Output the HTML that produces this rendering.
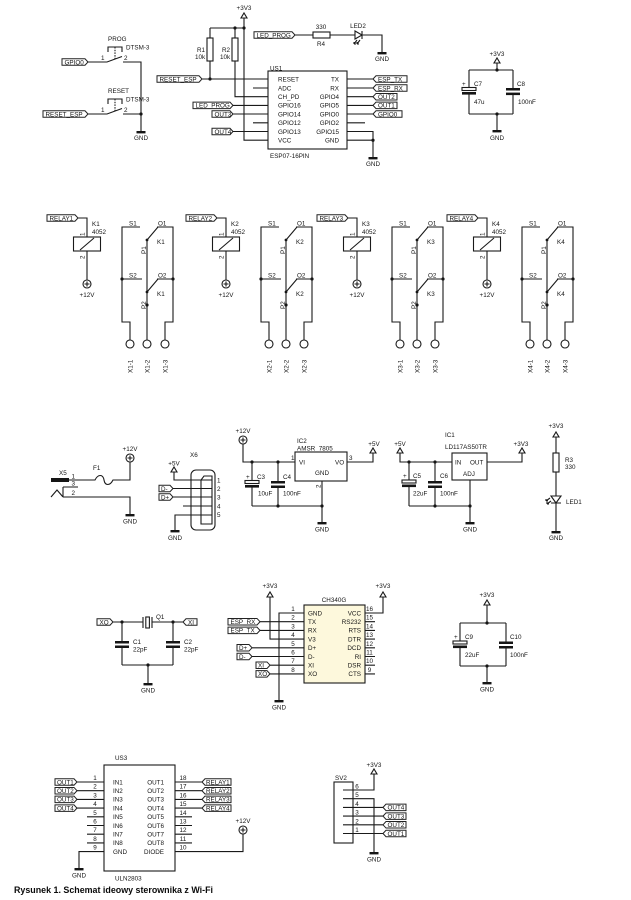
<!DOCTYPE html>
<html><head><meta charset="utf-8">
<style>
html,body{margin:0;padding:0;background:#fff}
svg{display:block}
.w{stroke:#1a1a1a;stroke-width:1.1;fill:none}
.wf{stroke:#1a1a1a;stroke-width:1.1;fill:#fff}
text{font-family:"Liberation Sans",sans-serif;font-size:6.3px;fill:#151515}
.lb{fill:#fff;stroke:#222;stroke-width:1}
.d{fill:#151515;stroke:none}
.m{text-anchor:middle}
.e{text-anchor:end}
.cap{font-size:9.6px;font-weight:bold;fill:#0a0a0a}
</style></head><body>
<svg width="631" height="900" viewBox="0 0 631 900" xmlns="http://www.w3.org/2000/svg">

<!-- ============ SWITCHES ============ -->
<text x="108" y="41">PROG</text>
<text x="126" y="49.5">DTSM-3</text>
<path class="w" d="M108,52V47H122V52"/>
<path class="w" d="M115,47V59" stroke-dasharray="1.5,1.2"/>
<polygon class="lb" points="62,58.75 85,58.75 88,62 85,65.25 62,65.25"/>
<text x="64.5" y="64.3">GPIO0</text>
<path class="w" d="M88,62H107L122,56.5M123,62H141V131"/>
<text x="101" y="60">1</text><text x="124" y="60">2</text>

<text x="108" y="93">RESET</text>
<text x="126" y="101.5">DTSM-3</text>
<path class="w" d="M108,104V99H122V104"/>
<path class="w" d="M115,99V111" stroke-dasharray="1.5,1.2"/>
<polygon class="lb" points="43,110.75 85,110.75 88,114 85,117.25 43,117.25"/>
<text x="45.5" y="116.3">RESET_ESP</text>
<path class="w" d="M88,114H107L122,108.5M123,114H141"/>
<text x="101" y="112">1</text><text x="124" y="112">2</text>
<circle class="d" cx="141" cy="114" r="1.6"/>
<rect class="d" x="136.5" y="131" width="9" height="2.4"/>
<text class="m" x="141" y="140">GND</text>

<!-- ============ ESP ============ -->
<text class="m" x="244" y="10">+3V3</text>
<polygon class="wf" points="241,18 247,18 244,13"/>
<path class="w" d="M210,28H244M244,18V140.2H268M210,28V79M235,28V96.7H268"/>
<circle class="d" cx="235" cy="28" r="1.6"/>
<circle class="d" cx="244" cy="28" r="1.6"/>
<rect class="wf" x="207" y="38" width="6" height="23"/>
<rect class="wf" x="232" y="38" width="6" height="23"/>
<text x="197" y="52">R1</text><text x="195" y="59">10k</text>
<text x="222" y="52">R2</text><text x="220" y="59">10k</text>
<polygon class="lb" points="157,75.75 199,75.75 202,79 199,82.25 157,82.25"/>
<text x="159.5" y="81.3">RESET_ESP</text>
<path class="w" d="M202,79H268"/>
<circle class="d" cx="210" cy="79" r="1.6"/>
<path class="w" d="M253,88H268M253,122.8H268"/>
<polygon class="lb" points="193,102.15 230,102.15 233,105.4 230,108.65 193,108.65"/>
<text x="195.5" y="107.7">LED_PROG</text>
<path class="w" d="M233,105.4H268"/>
<polygon class="lb" points="212,110.75 230,110.75 233,114 230,117.25 212,117.25"/>
<text x="214.5" y="116.3">OUT3</text>
<path class="w" d="M233,114H268"/>
<polygon class="lb" points="212,128.25 230,128.25 233,131.5 230,134.75 212,134.75"/>
<text x="214.5" y="133.8">OUT4</text>
<path class="w" d="M233,131.5H268"/>

<rect class="wf" x="268" y="71" width="79" height="78"/>
<text x="270" y="70.5">US1</text>
<text x="270" y="158">ESP07-16PIN</text>
<text x="278" y="81.6">RESET</text>
<text x="278" y="90.3">ADC</text>
<text x="278" y="99">CH_PD</text>
<text x="278" y="107.7">GPIO16</text>
<text x="278" y="116.4">GPIO14</text>
<text x="278" y="125.1">GPIO12</text>
<text x="278" y="133.8">GPIO13</text>
<text x="278" y="142.5">VCC</text>
<text class="e" x="339" y="81.6">TX</text>
<text class="e" x="339" y="90.3">RX</text>
<text class="e" x="339" y="99">GPIO4</text>
<text class="e" x="339" y="107.7">GPIO5</text>
<text class="e" x="339" y="116.4">GPIO0</text>
<text class="e" x="339" y="125.1">GPIO2</text>
<text class="e" x="339" y="133.8">GPIO15</text>
<text class="e" x="339" y="142.5">GND</text>
<path class="w" d="M347,79H373M347,88H373M347,96.7H373M347,105.4H373M347,114H373M347,122.8H365M347,131.5H373V157M347,140.2H373"/>
<circle class="d" cx="373" cy="140.2" r="1.6"/>
<rect class="d" x="368.5" y="157" width="9" height="2.4"/>
<text class="m" x="373" y="166">GND</text>
<polygon class="lb" points="373,79 376,75.75 407,75.75 407,82.25 376,82.25"/>
<text x="378" y="81.3">ESP_TX</text>
<polygon class="lb" points="373,88 376,84.75 407,84.75 407,91.25 376,91.25"/>
<text x="378" y="90.3">ESP_RX</text>
<polygon class="lb" points="373,96.7 376,93.45 397,93.45 397,99.95 376,99.95"/>
<text x="378" y="99">OUT2</text>
<polygon class="lb" points="373,105.4 376,102.15 397,102.15 397,108.65 376,108.65"/>
<text x="378" y="107.7">OUT1</text>
<polygon class="lb" points="373,114 376,110.75 402,110.75 402,117.25 376,117.25"/>
<text x="378" y="116.3">GPIO0</text>

<!-- LED_PROG / R4 / LED2 -->
<polygon class="lb" points="254,31.75 292,31.75 295,35 292,38.25 254,38.25"/>
<text x="256.5" y="37.3">LED_PROG</text>
<path class="w" d="M295,35H313M330,35H355M362,35H382V52"/>
<rect class="wf" x="313" y="32" width="17" height="6"/>
<text class="m" x="321" y="29">330</text>
<text class="m" x="321" y="46">R4</text>
<polygon class="wf" points="355,31 355,39 362,35"/>
<path class="w" d="M362,31V39"/>
<path class="w" d="M357,40L354,44M354,44L354,42M354,44L356,44M360,40L357,44M357,44L357,42M357,44L359,44" stroke-width="0.8"/>
<text class="m" x="358" y="28">LED2</text>
<rect class="d" x="377.5" y="52" width="9" height="2.4"/>
<text class="m" x="382" y="61">GND</text>

<!-- C7 C8 -->
<text class="m" x="497" y="56">+3V3</text>
<polygon class="wf" points="494,63 500,63 497,58"/>
<path class="w" d="M497,63V70M469,70H513M469,70V88M469,94V114M513,70V88M513,95V114M469,114H513M497,114V130"/>
<circle class="d" cx="497" cy="70" r="1.6"/>
<circle class="d" cx="497" cy="114" r="1.6"/>
<rect class="wf" x="462" y="87.5" width="14" height="3"/>
<rect class="d" x="462" y="92" width="14" height="2.6"/>
<rect class="d" x="506" y="88" width="14" height="2.5"/>
<rect class="d" x="506" y="92.6" width="14" height="2.5"/>
<text x="462" y="86">+</text><text x="474" y="86">C7</text><text x="474" y="104">47u</text>
<text x="517" y="86">C8</text><text x="518" y="104">100nF</text>
<rect class="d" x="492.5" y="130" width="9" height="2.4"/>
<text class="m" x="497" y="140">GND</text>

<!-- ============ RELAYS ============ -->
<g transform="translate(0,0)">
<polygon class="lb" points="47,214.75 75,214.75 78,218 75,221.25 47,221.25"/>
<text x="49.5" y="220.3">RELAY1</text>
<path class="w" d="M78,218H87V237M87,251V280"/>
<rect class="wf" x="73.5" y="237" width="27" height="14"/>
<path class="w" d="M80,250L94,238"/>
<circle class="wf" cx="87" cy="284" r="4"/>
<path class="w" d="M84.5,284H89.5M87,281.5V286.5"/>
<text class="m" x="87" y="297">+12V</text>
<text x="92" y="226">K1</text><text x="92" y="234">4052</text>
<text transform="rotate(-90 84.5 236)" x="84.5" y="236">1</text>
<text transform="rotate(-90 84.5 259)" x="84.5" y="259">2</text>
<path class="w" d="M140,227H122V322H130V340M157,227H173V322H165V340M147,240V340M147,240L158,227M142,279H122M157,279H173M147,292L158,279"/>
<circle class="d" cx="147" cy="240" r="1.4"/><circle class="d" cx="122" cy="279" r="1.6"/><circle class="d" cx="173" cy="279" r="1.6"/><circle class="d" cx="147" cy="292" r="1.4"/><circle class="d" cx="147" cy="305" r="1.6"/>
<circle class="wf" cx="130" cy="344" r="4"/><circle class="wf" cx="147" cy="344" r="4"/><circle class="wf" cx="165" cy="344" r="4"/>
<text x="129" y="225.5">S1</text><text x="158" y="225.5">O1</text>
<text x="129" y="277.5">S2</text><text x="158" y="277.5">O2</text>
<text x="157" y="244">K1</text><text x="157" y="296">K1</text>
<text transform="rotate(-90 146 254)" x="146" y="254">P1</text>
<text transform="rotate(-90 146 309)" x="146" y="309">P2</text>
<text transform="rotate(-90 132.3 373)" x="132.3" y="373">X1-1</text>
<text transform="rotate(-90 149.3 373)" x="149.3" y="373">X1-2</text>
<text transform="rotate(-90 167.3 373)" x="167.3" y="373">X1-3</text>
</g>

<g transform="translate(139,0)">
<polygon class="lb" points="47,214.75 75,214.75 78,218 75,221.25 47,221.25"/>
<text x="49.5" y="220.3">RELAY2</text>
<path class="w" d="M78,218H87V237M87,251V280"/>
<rect class="wf" x="73.5" y="237" width="27" height="14"/>
<path class="w" d="M80,250L94,238"/>
<circle class="wf" cx="87" cy="284" r="4"/>
<path class="w" d="M84.5,284H89.5M87,281.5V286.5"/>
<text class="m" x="87" y="297">+12V</text>
<text x="92" y="226">K2</text><text x="92" y="234">4052</text>
<text transform="rotate(-90 84.5 236)" x="84.5" y="236">1</text>
<text transform="rotate(-90 84.5 259)" x="84.5" y="259">2</text>
<path class="w" d="M140,227H122V322H130V340M157,227H173V322H165V340M147,240V340M147,240L158,227M142,279H122M157,279H173M147,292L158,279"/>
<circle class="d" cx="147" cy="240" r="1.4"/><circle class="d" cx="122" cy="279" r="1.6"/><circle class="d" cx="173" cy="279" r="1.6"/><circle class="d" cx="147" cy="292" r="1.4"/><circle class="d" cx="147" cy="305" r="1.6"/>
<circle class="wf" cx="130" cy="344" r="4"/><circle class="wf" cx="147" cy="344" r="4"/><circle class="wf" cx="165" cy="344" r="4"/>
<text x="129" y="225.5">S1</text><text x="158" y="225.5">O1</text>
<text x="129" y="277.5">S2</text><text x="158" y="277.5">O2</text>
<text x="157" y="244">K2</text><text x="157" y="296">K2</text>
<text transform="rotate(-90 146 254)" x="146" y="254">P1</text>
<text transform="rotate(-90 146 309)" x="146" y="309">P2</text>
<text transform="rotate(-90 132.3 373)" x="132.3" y="373">X2-1</text>
<text transform="rotate(-90 149.3 373)" x="149.3" y="373">X2-2</text>
<text transform="rotate(-90 167.3 373)" x="167.3" y="373">X2-3</text>
</g>

<g transform="translate(270,0)">
<polygon class="lb" points="47,214.75 75,214.75 78,218 75,221.25 47,221.25"/>
<text x="49.5" y="220.3">RELAY3</text>
<path class="w" d="M78,218H87V237M87,251V280"/>
<rect class="wf" x="73.5" y="237" width="27" height="14"/>
<path class="w" d="M80,250L94,238"/>
<circle class="wf" cx="87" cy="284" r="4"/>
<path class="w" d="M84.5,284H89.5M87,281.5V286.5"/>
<text class="m" x="87" y="297">+12V</text>
<text x="92" y="226">K3</text><text x="92" y="234">4052</text>
<text transform="rotate(-90 84.5 236)" x="84.5" y="236">1</text>
<text transform="rotate(-90 84.5 259)" x="84.5" y="259">2</text>
<path class="w" d="M140,227H122V322H130V340M157,227H173V322H165V340M147,240V340M147,240L158,227M142,279H122M157,279H173M147,292L158,279"/>
<circle class="d" cx="147" cy="240" r="1.4"/><circle class="d" cx="122" cy="279" r="1.6"/><circle class="d" cx="173" cy="279" r="1.6"/><circle class="d" cx="147" cy="292" r="1.4"/><circle class="d" cx="147" cy="305" r="1.6"/>
<circle class="wf" cx="130" cy="344" r="4"/><circle class="wf" cx="147" cy="344" r="4"/><circle class="wf" cx="165" cy="344" r="4"/>
<text x="129" y="225.5">S1</text><text x="158" y="225.5">O1</text>
<text x="129" y="277.5">S2</text><text x="158" y="277.5">O2</text>
<text x="157" y="244">K3</text><text x="157" y="296">K3</text>
<text transform="rotate(-90 146 254)" x="146" y="254">P1</text>
<text transform="rotate(-90 146 309)" x="146" y="309">P2</text>
<text transform="rotate(-90 132.3 373)" x="132.3" y="373">X3-1</text>
<text transform="rotate(-90 149.3 373)" x="149.3" y="373">X3-2</text>
<text transform="rotate(-90 167.3 373)" x="167.3" y="373">X3-3</text>
</g>

<g transform="translate(400,0)">
<polygon class="lb" points="47,214.75 75,214.75 78,218 75,221.25 47,221.25"/>
<text x="49.5" y="220.3">RELAY4</text>
<path class="w" d="M78,218H87V237M87,251V280"/>
<rect class="wf" x="73.5" y="237" width="27" height="14"/>
<path class="w" d="M80,250L94,238"/>
<circle class="wf" cx="87" cy="284" r="4"/>
<path class="w" d="M84.5,284H89.5M87,281.5V286.5"/>
<text class="m" x="87" y="297">+12V</text>
<text x="92" y="226">K4</text><text x="92" y="234">4052</text>
<text transform="rotate(-90 84.5 236)" x="84.5" y="236">1</text>
<text transform="rotate(-90 84.5 259)" x="84.5" y="259">2</text>
<path class="w" d="M140,227H122V322H130V340M157,227H173V322H165V340M147,240V340M147,240L158,227M142,279H122M157,279H173M147,292L158,279"/>
<circle class="d" cx="147" cy="240" r="1.4"/><circle class="d" cx="122" cy="279" r="1.6"/><circle class="d" cx="173" cy="279" r="1.6"/><circle class="d" cx="147" cy="292" r="1.4"/><circle class="d" cx="147" cy="305" r="1.6"/>
<circle class="wf" cx="130" cy="344" r="4"/><circle class="wf" cx="147" cy="344" r="4"/><circle class="wf" cx="165" cy="344" r="4"/>
<text x="129" y="225.5">S1</text><text x="158" y="225.5">O1</text>
<text x="129" y="277.5">S2</text><text x="158" y="277.5">O2</text>
<text x="157" y="244">K4</text><text x="157" y="296">K4</text>
<text transform="rotate(-90 146 254)" x="146" y="254">P1</text>
<text transform="rotate(-90 146 309)" x="146" y="309">P2</text>
<text transform="rotate(-90 132.3 373)" x="132.3" y="373">X4-1</text>
<text transform="rotate(-90 149.3 373)" x="149.3" y="373">X4-2</text>
<text transform="rotate(-90 167.3 373)" x="167.3" y="373">X4-3</text>
</g>

<!-- ============ POWER: X5 ============ -->
<text x="59" y="475">X5</text>
<rect class="d" x="51" y="478" width="18" height="4"/>
<text x="71.5" y="478.5">1</text>
<text x="71.5" y="485.5">3</text>
<text x="71.5" y="495">2</text>
<text x="93" y="470">F1</text>
<path class="w" d="M69,480H95C98,474 103,474 104,480C105,486 110,486 113,480H130V462"/>
<path class="w" d="M63,487H78M63,487V497M51,497L57,490L63,497M63,497H130V514"/>
<circle class="wf" cx="130" cy="458" r="4"/>
<path class="w" d="M127.5,458H132.5M130,455.5V460.5"/>
<text class="m" x="130" y="451">+12V</text>
<rect class="d" x="125.5" y="514" width="9" height="2.4"/>
<text class="m" x="130" y="523.5">GND</text>

<!-- X6 -->
<text x="190" y="457">X6</text>
<text class="m" x="174" y="465.5">+5V</text>
<polygon class="wf" points="171,472 177,472 174,467"/>
<path class="w" d="M174,472V480H212"/>
<rect class="w" x="191" y="470" width="24" height="60" rx="5"/>
<path class="w" d="M204,476H212V524H201V480Z"/>
<polygon class="lb" points="159,485.25 170,485.25 173,488.5 170,491.75 159,491.75"/>
<text x="161" y="490.8">D-</text>
<polygon class="lb" points="159,493.75 170,493.75 173,497 170,500.25 159,500.25"/>
<text x="161" y="499.3">D+</text>
<path class="w" d="M173,488.5H212M173,497H212M183,506H212M212,515H175V530"/>
<text x="217" y="482.5">1</text><text x="217" y="491">2</text><text x="217" y="499.5">3</text><text x="217" y="508.3">4</text><text x="217" y="517">5</text>
<rect class="d" x="170.5" y="530" width="9" height="2.4"/>
<text class="m" x="175" y="540">GND</text>

<!-- IC2 7805 -->
<text class="m" x="243" y="433">+12V</text>
<circle class="wf" cx="243" cy="440" r="4"/>
<path class="w" d="M240.5,440H245.5M243,437.5V442.5"/>
<path class="w" d="M243,444V462H295M252,462V480.5M252,487.5V506M278,462V481M278,488V506M252,506H322M322,481V522"/>
<circle class="d" cx="252" cy="462" r="1.6"/><circle class="d" cx="278" cy="462" r="1.6"/>
<circle class="d" cx="278" cy="506" r="1.6"/><circle class="d" cx="322" cy="506" r="1.6"/>
<rect class="wf" x="245" y="480.5" width="14" height="3"/>
<rect class="d" x="245" y="485" width="14" height="2.6"/>
<rect class="d" x="271" y="481" width="14" height="2.5"/>
<rect class="d" x="271" y="485.5" width="14" height="2.5"/>
<text x="246" y="479">+</text><text x="257" y="479">C3</text><text x="258" y="495.5">10uF</text>
<text x="283" y="479">C4</text><text x="283" y="495.5">100nF</text>
<rect class="wf" x="295" y="452" width="52" height="29"/>
<text x="297" y="443">IC2</text><text x="297" y="450.5">AMSR_7805</text>
<text x="299" y="464.5">VI</text><text x="315" y="475">GND</text><text x="335" y="464.5">VO</text>
<text x="291" y="460">1</text><text x="349" y="460">3</text>
<text transform="rotate(-90 320.5 488)" x="320.5" y="488">2</text>
<rect class="d" x="317.5" y="522" width="9" height="2.4"/>
<text class="m" x="322" y="531.5">GND</text>
<path class="w" d="M347,462H373V453"/>
<polygon class="wf" points="370,453 376,453 373,448"/>
<text class="m" x="374" y="446">+5V</text>

<!-- IC1 LD1117 -->
<text class="m" x="400" y="446">+5V</text>
<polygon class="wf" points="397,453 403,453 400,448"/>
<path class="w" d="M400,453V462H452M409,462V480M409,487V506M435,462V481M435,488V506M409,506H470M470,480V522"/>
<circle class="d" cx="409" cy="462" r="1.6"/><circle class="d" cx="435" cy="462" r="1.6"/>
<circle class="d" cx="435" cy="506" r="1.6"/><circle class="d" cx="470" cy="506" r="1.6"/>
<rect class="wf" x="402" y="480" width="14" height="3"/>
<rect class="d" x="402" y="484.5" width="14" height="2.6"/>
<rect class="d" x="428" y="481" width="14" height="2.5"/>
<rect class="d" x="428" y="485.5" width="14" height="2.5"/>
<text x="403" y="478">+</text><text x="413" y="478">C5</text><text x="413" y="495.5">22uF</text>
<text x="440" y="478">C6</text><text x="440" y="495.5">100nF</text>
<rect class="wf" x="452" y="453" width="35" height="27"/>
<text x="445" y="437">IC1</text><text x="445" y="449">LD117AS50TR</text>
<text x="455" y="464.5">IN</text><text x="470" y="464.5">OUT</text><text x="463" y="476">ADJ</text>
<rect class="d" x="465.5" y="522" width="9" height="2.4"/>
<text class="m" x="470" y="531.5">GND</text>
<path class="w" d="M487,462H522V453"/>
<polygon class="wf" points="519,453 525,453 522,448"/>
<text class="m" x="521" y="446">+3V3</text>

<!-- LED1 -->
<text class="m" x="556" y="428">+3V3</text>
<polygon class="wf" points="553,437 559,437 556,432"/>
<path class="w" d="M556,437V453M556,472V496M556,503V531M551,503H561"/>
<rect class="wf" x="553" y="453" width="6" height="19"/>
<polygon class="wf" points="551,496 561,496 556,503"/>
<path class="w" d="M550,498L546,501M546,501H548M546,501V499M551,501L547,504M547,504H549M547,504V502" stroke-width="0.8"/>
<text x="565" y="462">R3</text><text x="565" y="469">330</text>
<text x="566" y="504">LED1</text>
<rect class="d" x="551.5" y="531" width="9" height="2.4"/>
<text class="m" x="556" y="540">GND</text>

<!-- ============ CRYSTAL ============ -->
<polygon class="lb" points="97,618.75 110,618.75 113,622 110,625.25 97,625.25"/>
<text x="99.5" y="624.3">XO</text>
<path class="w" d="M113,622H143M143,617V628M152,617V628M152,622H183M122,622V641M122,648V665M173,622V641M173,648V665M122,665H173M148,665V683"/>
<rect class="wf" x="145.8" y="617" width="3.6" height="11"/>
<circle class="d" cx="122" cy="622" r="1.6"/><circle class="d" cx="173" cy="622" r="1.6"/><circle class="d" cx="148" cy="665" r="1.6"/>
<rect class="d" x="115" y="641" width="14" height="2.5"/>
<rect class="d" x="115" y="645.5" width="14" height="2.5"/>
<rect class="d" x="166" y="641" width="14" height="2.5"/>
<rect class="d" x="166" y="645.5" width="14" height="2.5"/>
<text x="156" y="619">Q1</text>
<polygon class="lb" points="183,622 186,618.75 197,618.75 197,625.25 186,625.25"/>
<text x="188" y="624.3">XI</text>
<text x="133" y="644">C1</text><text x="133" y="651.5">22pF</text>
<text x="184" y="644">C2</text><text x="184" y="651.5">22pF</text>
<rect class="d" x="143.5" y="683" width="9" height="2.4"/>
<text class="m" x="148" y="692.5">GND</text>

<!-- ============ CH340G ============ -->
<rect x="304" y="605" width="61" height="78" fill="#fdf8dc" stroke="#1a1a1a" stroke-width="1.1"/>
<text class="m" x="334" y="602">CH340G</text>
<text class="m" x="270" y="588">+3V3</text>
<polygon class="wf" points="267,597 273,597 270,592"/>
<text class="m" x="383" y="588">+3V3</text>
<polygon class="wf" points="380,597 386,597 383,592"/>
<path class="w" d="M270,597V639.1H304M304,613H279V700M365,613H383V597"/>
<polygon class="lb" points="228,618.45 257,618.45 260,621.7 257,624.95 228,624.95"/>
<text x="230.5" y="624">ESP_RX</text>
<polygon class="lb" points="228,627.15 257,627.15 260,630.4 257,633.65 228,633.65"/>
<text x="230.5" y="632.7">ESP_TX</text>
<polygon class="lb" points="237,644.55 249,644.55 252,647.8 249,651.05 237,651.05"/>
<text x="239" y="650.1">D+</text>
<polygon class="lb" points="237,653.25 249,653.25 252,656.5 249,659.75 237,659.75"/>
<text x="239" y="658.8">D-</text>
<polygon class="lb" points="256,661.95 267,661.95 270,665.2 267,668.45 256,668.45"/>
<text x="258" y="667.5">XI</text>
<polygon class="lb" points="256,670.65 267,670.65 270,673.9 267,677.15 256,677.15"/>
<text x="258" y="676.2">XO</text>
<path class="w" d="M260,621.7H304M260,630.4H304M252,647.8H304M252,656.5H304M270,665.2H304M270,673.9H304"/>
<path class="w" d="M365,621.7H375M365,630.4H375M365,639.1H375M365,647.8H375M365,656.5H375M365,665.2H375M365,673.9H375"/>
<text class="m" x="293" y="611">1</text><text class="m" x="293" y="619.7">2</text><text class="m" x="293" y="628.4">3</text><text class="m" x="293" y="637.1">4</text>
<text class="m" x="293" y="645.8">5</text><text class="m" x="293" y="654.5">6</text><text class="m" x="293" y="663.2">7</text><text class="m" x="293" y="671.9">8</text>
<text x="308" y="615.3">GND</text><text x="308" y="624">TX</text><text x="308" y="632.7">RX</text><text x="308" y="641.4">V3</text>
<text x="308" y="650.1">D+</text><text x="308" y="658.8">D-</text><text x="308" y="667.5">XI</text><text x="308" y="676.2">XO</text>
<text class="e" x="361" y="615.3">VCC</text><text class="e" x="361" y="624">RS232</text><text class="e" x="361" y="632.7">RTS</text><text class="e" x="361" y="641.4">DTR</text>
<text class="e" x="361" y="650.1">DCD</text><text class="e" x="361" y="658.8">RI</text><text class="e" x="361" y="667.5">DSR</text><text class="e" x="361" y="676.2">CTS</text>
<text class="m" x="369.5" y="611">16</text><text class="m" x="369.5" y="619.7">15</text><text class="m" x="369.5" y="628.4">14</text><text class="m" x="369.5" y="637.1">13</text>
<text class="m" x="369.5" y="645.8">12</text><text class="m" x="369.5" y="654.5">11</text><text class="m" x="369.5" y="663.2">10</text><text class="m" x="369.5" y="671.9">9</text>
<rect class="d" x="274.5" y="700" width="9" height="2.4"/>
<text class="m" x="279" y="709.5">GND</text>

<!-- C9 C10 -->
<text class="m" x="487" y="597">+3V3</text>
<polygon class="wf" points="484,605 490,605 487,600"/>
<path class="w" d="M487,605V623M460,623H506M460,623V641M460,648V666M506,623V641.5M506,648.5V666M460,666H506M487,666V682"/>
<circle class="d" cx="487" cy="623" r="1.6"/><circle class="d" cx="487" cy="666" r="1.6"/>
<rect class="wf" x="453" y="641" width="14" height="3"/>
<rect class="d" x="453" y="645.5" width="14" height="2.6"/>
<rect class="d" x="499" y="641.5" width="14" height="2.5"/>
<rect class="d" x="499" y="646" width="14" height="2.5"/>
<text x="454" y="639">+</text><text x="465" y="639">C9</text><text x="465" y="657">22uF</text>
<text x="510" y="639">C10</text><text x="510" y="657">100nF</text>
<rect class="d" x="482.5" y="682" width="9" height="2.4"/>
<text class="m" x="487" y="691.5">GND</text>

<!-- ============ ULN2803 ============ -->
<text x="115" y="760">US3</text>
<rect class="wf" x="104" y="765" width="71" height="106"/>
<text x="115" y="880.5">ULN2803</text>
<polygon class="lb" points="55,778.75 74,778.75 77,782 74,785.25 55,785.25"/>
<text x="57" y="784.3">OUT1</text>
<polygon class="lb" points="55,787.45 74,787.45 77,790.7 74,793.95 55,793.95"/>
<text x="57" y="793">OUT2</text>
<polygon class="lb" points="55,796.15 74,796.15 77,799.4 74,802.65 55,802.65"/>
<text x="57" y="801.7">OUT3</text>
<polygon class="lb" points="55,804.85 74,804.85 77,808.1 74,811.35 55,811.35"/>
<text x="57" y="810.4">OUT4</text>
<path class="w" d="M77,782H104M77,790.7H104M77,799.4H104M77,808.1H104M87,816.8H104M87,825.5H104M87,834.2H104M87,842.9H104M104,851.6H79V868"/>
<path class="w" d="M175,782H202M175,790.7H202M175,799.4H202M175,808.1H202M175,816.8H192M175,825.5H192M175,834.2H192M175,842.9H192M175,851.6H243V834"/>
<polygon class="lb" points="202,782 205,778.75 231,778.75 231,785.25 205,785.25"/>
<text x="206" y="784.3">RELAY1</text>
<polygon class="lb" points="202,790.7 205,787.45 231,787.45 231,793.95 205,793.95"/>
<text x="206" y="793">RELAY2</text>
<polygon class="lb" points="202,799.4 205,796.15 231,796.15 231,802.65 205,802.65"/>
<text x="206" y="801.7">RELAY3</text>
<polygon class="lb" points="202,808.1 205,804.85 231,804.85 231,811.35 205,811.35"/>
<text x="206" y="810.4">RELAY4</text>
<text class="m" x="95" y="780">1</text><text class="m" x="95" y="788.7">2</text><text class="m" x="95" y="797.4">3</text><text class="m" x="95" y="806.1">4</text><text class="m" x="95" y="814.8">5</text>
<text class="m" x="95" y="823.5">6</text><text class="m" x="95" y="832.2">7</text><text class="m" x="95" y="840.9">8</text><text class="m" x="95" y="849.6">9</text>
<text class="m" x="183" y="780">18</text><text class="m" x="183" y="788.7">17</text><text class="m" x="183" y="797.4">16</text><text class="m" x="183" y="806.1">15</text><text class="m" x="183" y="814.8">14</text>
<text class="m" x="183" y="823.5">13</text><text class="m" x="183" y="832.2">12</text><text class="m" x="183" y="840.9">11</text><text class="m" x="183" y="849.6">10</text>
<text x="113" y="784.3">IN1</text><text x="113" y="793">IN2</text><text x="113" y="801.7">IN3</text><text x="113" y="810.4">IN4</text><text x="113" y="819.1">IN5</text>
<text x="113" y="827.8">IN6</text><text x="113" y="836.5">IN7</text><text x="113" y="845.2">IN8</text><text x="113" y="853.9">GND</text>
<text class="e" x="164" y="784.3">OUT1</text><text class="e" x="164" y="793">OUT2</text><text class="e" x="164" y="801.7">OUT3</text><text class="e" x="164" y="810.4">OUT4</text><text class="e" x="164" y="819.1">OUT5</text>
<text class="e" x="164" y="827.8">OUT6</text><text class="e" x="164" y="836.5">OUT7</text><text class="e" x="164" y="845.2">OUT8</text><text class="e" x="164" y="853.9">DIODE</text>
<rect class="d" x="74.5" y="868" width="9" height="2.4"/>
<text class="m" x="79" y="877.5">GND</text>
<circle class="wf" cx="243" cy="830" r="4"/>
<path class="w" d="M240.5,830H245.5M243,827.5V832.5"/>
<text class="m" x="243" y="823">+12V</text>

<!-- ============ SV2 ============ -->
<text class="m" x="374" y="767">+3V3</text>
<polygon class="wf" points="371,774 377,774 374,769"/>
<text x="335" y="780">SV2</text>
<rect class="wf" x="334" y="782" width="19" height="61"/>
<path class="w" d="M374,774V790H343M343,798.7H374V852M343,807.4H383M343,816.1H383M343,824.8H383M343,833.5H383"/>
<text class="m" x="357" y="788.5">6</text><text class="m" x="357" y="797.2">5</text><text class="m" x="357" y="805.9">4</text>
<text class="m" x="357" y="814.6">3</text><text class="m" x="357" y="823.3">2</text><text class="m" x="357" y="832">1</text>
<polygon class="lb" points="383,807.4 386,804.15 406,804.15 406,810.65 386,810.65"/>
<text x="387.5" y="809.7">OUT4</text>
<polygon class="lb" points="383,816.1 386,812.85 406,812.85 406,819.35 386,819.35"/>
<text x="387.5" y="818.4">OUT3</text>
<polygon class="lb" points="383,824.8 386,821.55 406,821.55 406,828.05 386,828.05"/>
<text x="387.5" y="827.1">OUT2</text>
<polygon class="lb" points="383,833.5 386,830.25 406,830.25 406,836.75 386,836.75"/>
<text x="387.5" y="835.8">OUT1</text>
<rect class="d" x="369.5" y="852" width="9" height="2.4"/>
<text class="m" x="374" y="861.5">GND</text>

<!-- caption -->
<text class="cap" x="14" y="893" textLength="199" lengthAdjust="spacingAndGlyphs">Rysunek 1. Schemat ideowy sterownika z Wi-Fi</text>
</svg>
</body></html>
